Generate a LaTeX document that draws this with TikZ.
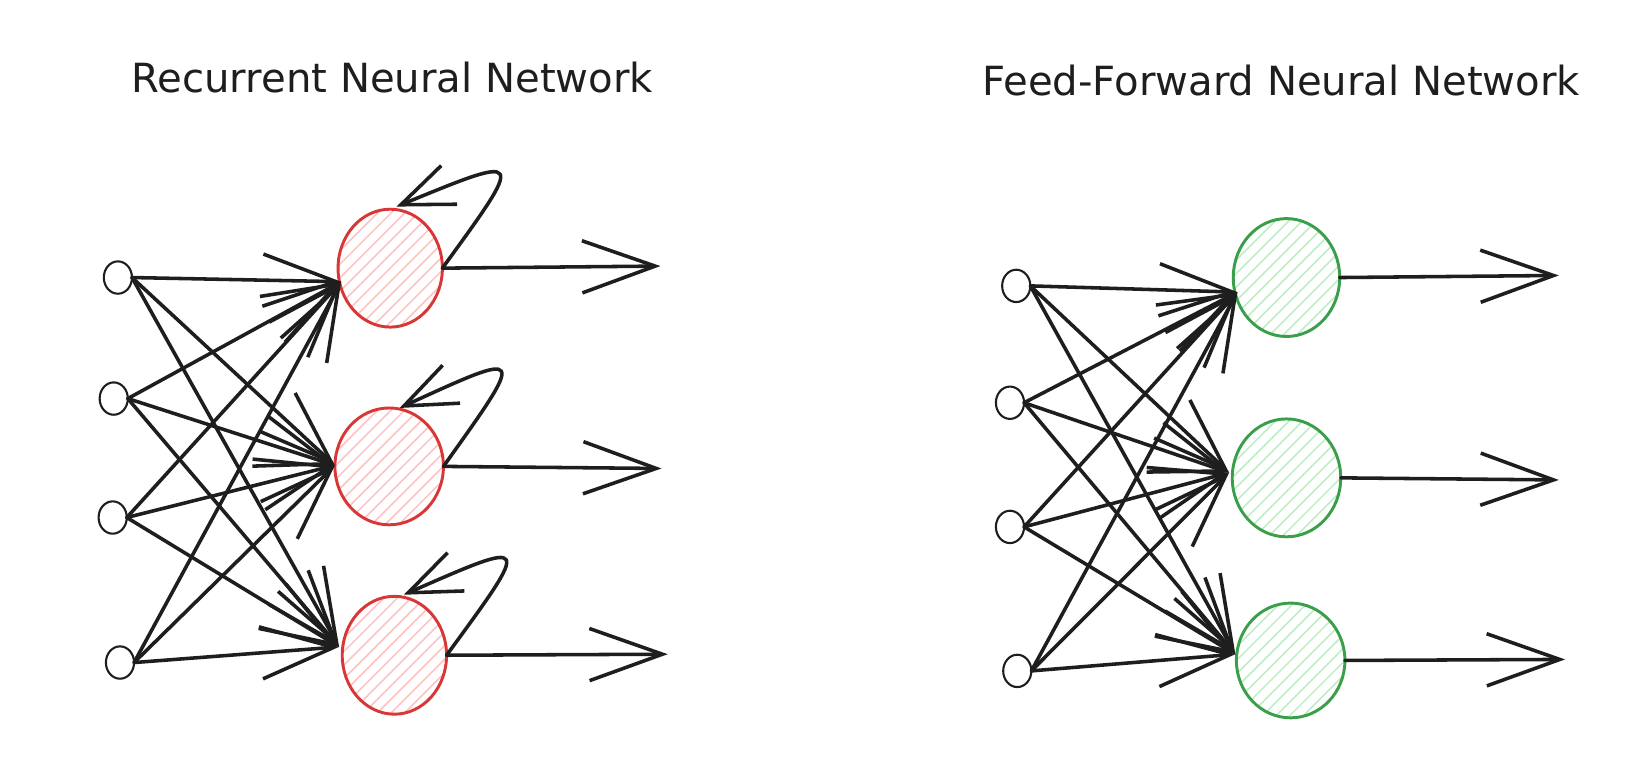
\documentclass[tikz,border=0pt]{standalone}
\usepackage{fontspec}
\setmainfont{DejaVu Sans}
\usetikzlibrary{arrows.meta,shapes.geometric,calc}
\definecolor{ink}{HTML}{1E1E1E}
\definecolor{redstroke}{HTML}{D93636}
\definecolor{redhatch}{HTML}{FFC2C2}
\definecolor{greenstroke}{HTML}{3A9E4A}
\definecolor{greenhatch}{HTML}{BFEEC5}
\tikzset{
  conn/.style={draw=ink, line width=3.4pt, line cap=round, line join=round,
    -{Straight Barb[length=70pt,width=50pt]}},
  loopconn/.style={draw=ink, line width=3.4pt, line cap=round, line join=round,
    -{Straight Barb[length=50pt,width=40pt]}},
  inp/.style={ellipse, draw=ink, line width=2pt, minimum width=27pt,
    minimum height=31pt, inner sep=0pt, outer sep=0pt},
  neuron/.style 2 args={ellipse, draw=#1, line width=2.8pt, inner sep=0pt,
    outer sep=0pt, minimum width=100pt, minimum height=113pt,
    path picture={
      \foreach \k in {-182,-169,...,182}
        \draw[#2, line width=1.5pt]
          ($(path picture bounding box.center)+(\k-130,130)$) --
          ($(path picture bounding box.center)+(\k+130,-130)$);
    }},
  ttl/.style={anchor=base, inner sep=0pt, text=ink,
    font=\fontsize{38.5}{44}\selectfont}
}
\begin{document}
\begin{tikzpicture}[x=1pt,y=-1pt]
\useasboundingbox (0,0) rectangle (1568,725);
\fill[white] (0,0) rectangle (1568,725);

% ---------------- titles ----------------
\node[ttl] (title1) at (376,89) {Recurrent Neural Network};
\node[ttl] (title2) at (1228,92) {Feed-Forward Neural Network};

% ---------------- recurrent network ----------------
\node[inp] (a1) at (113,266) {};
\node[inp] (a2) at (109,382) {};
\node[inp] (a3) at (108,496) {};
\node[inp] (a4) at (115,635) {};

\node[neuron={redstroke}{redhatch}] (r1) at (374,257) {};
\node[neuron={redstroke}{redhatch}, minimum width=104pt, minimum height=112pt] (r2) at (373,447) {};
\node[neuron={redstroke}{redhatch}] (r3) at (378,628) {};

\coordinate (t1) at (327,270);
\coordinate (t2) at (321,446);
\coordinate (t3) at (325,620);

\foreach \i in {1,...,4}
  \foreach \j in {1,2,3}
    \draw[conn] (a\i.east) -- (t\j);

\coordinate (o1) at (633,255);
\coordinate (o2) at (634,449);
\coordinate (o3) at (640,627);
\draw[conn] (r1.east) -- (o1);
\draw[conn] (r2.east) -- (o2);
\draw[conn] (r3.east) -- (o3);

\coordinate (l1) at (380,198);
\coordinate (l2) at (383,391);
\coordinate (l3) at (387,570);
\draw[loopconn] (r1.east) .. controls +(80,-110) and +(124,-51) .. (l1);
\draw[loopconn] (r2.east) .. controls +(80,-112) and +(122,-56) .. (l2);
\draw[loopconn] (r3.east) .. controls +(82,-112) and +(123,-54) .. (l3);

% ---------------- feed-forward network ----------------
\node[inp] (b1) at (974,274) {};
\node[inp] (b2) at (968,386) {};
\node[inp] (b3) at (968,505) {};
\node[inp] (b4) at (975,643) {};

\node[neuron={greenstroke}{greenhatch}, minimum width=102pt] (g1) at (1233,266) {};
\node[neuron={greenstroke}{greenhatch}, minimum width=104pt] (g2) at (1233,458) {};
\node[neuron={greenstroke}{greenhatch}, minimum width=104pt, minimum height=110pt] (g3) at (1237,633) {};

\coordinate (u1) at (1186,280);
\coordinate (u2) at (1178,453);
\coordinate (u3) at (1184,627);

\foreach \i in {1,...,4}
  \foreach \j in {1,2,3}
    \draw[conn] (b\i.east) -- (u\j);

\coordinate (p1) at (1494,264);
\coordinate (p2) at (1494,460);
\coordinate (p3) at (1500,632);
\draw[conn] (g1.east) -- (p1);
\draw[conn] (g2.east) -- (p2);
\draw[conn] (g3.east) -- (p3);
\end{tikzpicture}
\end{document}
